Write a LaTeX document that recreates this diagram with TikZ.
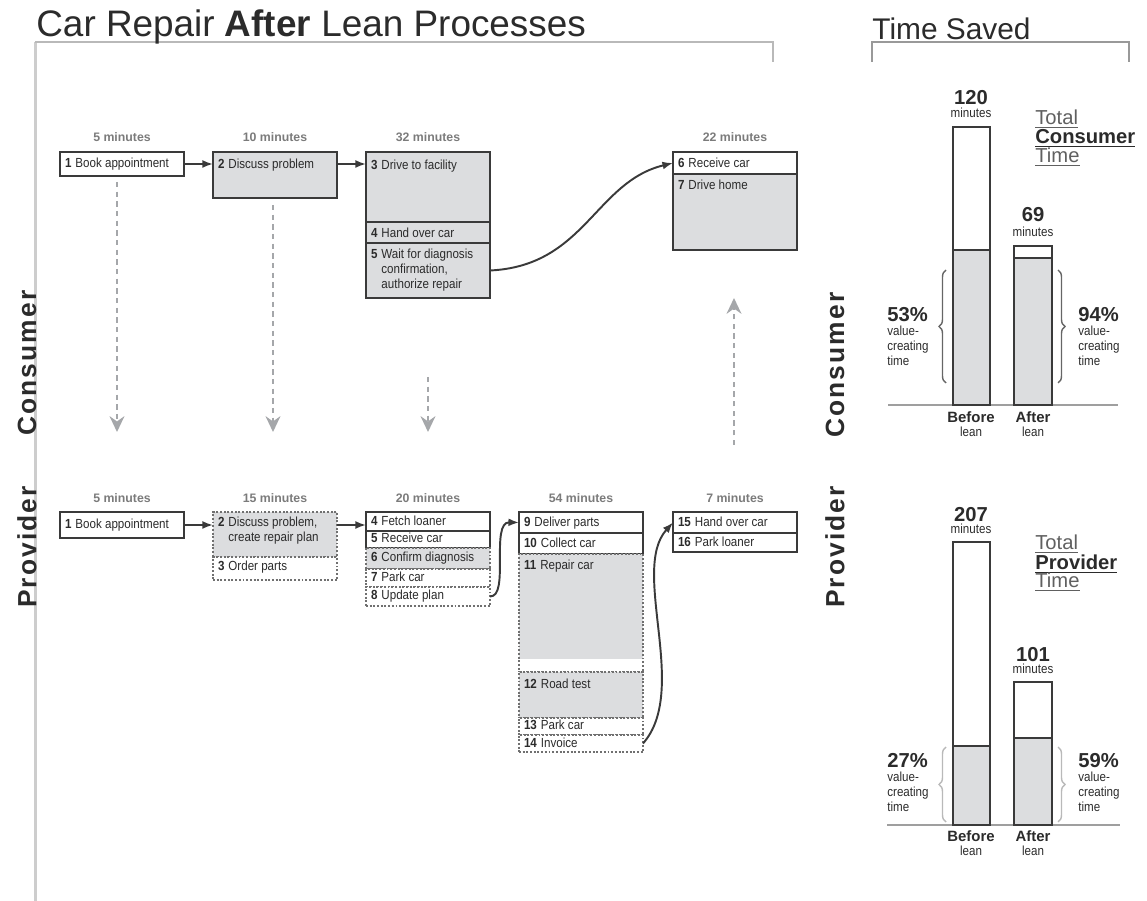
\documentclass[tikz,border=0pt]{standalone}
\usepackage{fontspec}
\setmainfont{Liberation Sans}
\newfontfamily\condf[FakeStretch=0.88]{Liberation Sans}
\newfontfamily\lanef[LetterSpace=8]{Liberation Sans}
\usepackage{tikz}
\usetikzlibrary{arrows.meta, positioning, decorations.pathreplacing}

\definecolor{boxgray}{HTML}{DCDDDF}
\definecolor{linec}{HTML}{3A3A3A}
\definecolor{dotc}{HTML}{707070}
\definecolor{dashc}{HTML}{A5A7AA}
\definecolor{timec}{HTML}{7B7B7B}
\definecolor{framec}{HTML}{CDCDCD}
\definecolor{textc}{HTML}{2B2B2B}

\newlength\px \setlength\px{0.02cm}
% box text: [first line height]{box height}{number}{text}
\newcommand\stg[4][16]{\parbox[t][#2\px][t]{124\px}{\hspace*{5\px}\begin{tabular}[t]{@{}l@{\hspace{4\px}}l@{}}\rule{0pt}{#1\px}\textbf{#3}&#4\end{tabular}}}

\begin{document}
\begin{tikzpicture}[
  x=0.02cm, y=-0.02cm,
  stage/.style={draw=linec, line width=1.1pt, anchor=north west, inner sep=0pt, outer sep=0pt,
    font=\condf\fontsize{7.5}{8.5}\selectfont, text=textc},
  wbox/.style={fill=white},
  vbox/.style={fill=boxgray},
  dots/.style={draw=dotc, densely dotted, line width=0.8pt},
  mins/.style={inner sep=0pt, font=\bfseries\fontsize{7}{8}\selectfont, text=timec},
  flow/.style={draw=linec, line width=1.1pt, -{Latex[length=6pt,width=4.5pt]}},
  handoff/.style={draw=dashc, dashc, line width=1.1pt, dash pattern=on 3pt off 2.5pt,
    -{Stealth[length=9pt,width=8.5pt,inset=3pt]}},
  lane/.style={rotate=90, inner sep=0pt, font=\lanef\bfseries\fontsize{15}{16}\selectfont, text=textc},
  bignum/.style={anchor=base, inner sep=0pt, font=\bfseries\fontsize{11.5}{12}\selectfont, text=textc},
  small/.style={inner sep=0pt, font=\condf\fontsize{7.5}{8.5}\selectfont, text=textc},
  axlab/.style={anchor=base, inner sep=0pt, font=\bfseries\fontsize{8.5}{9}\selectfont, text=textc},
  total/.style={anchor=base west, inner sep=0pt, font=\fontsize{11.5}{12}\selectfont, text=textc!75},
  barline/.style={draw=linec, line width=1.1pt},
  axis/.style={draw=gray!75, line width=1.2pt},
  curly/.style={decorate, decoration={brace, amplitude=7\px}, line width=0.8pt}
]
\useasboundingbox (0,0) rectangle (1147,901);

% frames and headings
\draw[framec, line width=3\px] (35,42) -- (35,901);
\draw[gray!55, line width=2\px] (35,42) -- (773,42) -- (773,62);
\draw[gray!80, line width=2\px] (872,62) -- (872,42) -- (1129,42) -- (1129,62);
\node[anchor=base west, inner sep=0pt, font=\fontsize{21}{22}\selectfont, text=textc] (title) at (36,37)
  {Car Repair \textbf{After} Lean Processes};
\node[anchor=base west, inner sep=0pt, font=\fontsize{17}{18}\selectfont, text=textc] (saved) at (872,40)
  {Time Saved};

\node[lane] (lc) at (27,363) {Consumer};
\node[lane] (lp) at (27,547) {Provider};
\node[lane] (rc) at (835,365) {Consumer};
\node[lane] (rp) at (835,547) {Provider};

% consumer steps
\node[stage, wbox] (c1) at (60,152) {\stg{24}{1}{Book appointment}};
\node[stage, vbox] (c2) at (213,152) {\stg[17]{46}{2}{Discuss problem}};
\node[stage, vbox] (c3) at (366,152) {\stg[18]{70}{3}{Drive to facility}};
\node[stage, vbox] (c4) at (c3.south west) {\stg{21}{4}{Hand over car}};
\node[stage, vbox] (c5) at (c4.south west) {\stg{55}{5}{Wait for diagnosis\\&confirmation,\\&authorize repair}};
\node[stage, wbox] (c6) at (673,152) {\stg{22}{6}{Receive car}};
\node[stage, vbox] (c7) at (c6.south west) {\stg{76}{7}{Drive home}};

\node[mins, above=10\px of c1] (tc1) {5 minutes};
\node[mins, above=10\px of c2] (tc2) {10 minutes};
\node[mins, above=10\px of c3] (tc3) {32 minutes};
\node[mins, above=10\px of c6] (tc4) {22 minutes};

\draw[flow] (c1.east) -- (c1.east -| c2.west);
\draw[flow] (c1.east -| c2.east) -- (c1.east -| c3.west);
\draw[flow] (c5.east) .. controls (585,266) and (595,182) .. (c6.west);

% provider steps
\node[stage, wbox] (p1) at (60,512) {\stg[17]{26}{1}{Book appointment}};
\node[stage, dots, vbox] (p2) at (213,512) {\stg[15]{45}{2}{Discuss problem,\\&create repair plan}};
\node[stage, dots, wbox] (p3) at (p2.south west) {\stg[14]{23}{3}{Order parts}};
\node[stage, wbox] (p4) at (366,512) {\stg[14]{19}{4}{Fetch loaner}};
\node[stage, wbox] (p5) at (p4.south west) {\stg[12]{17}{5}{Receive car}};
\node[stage, dots, vbox] (p6) at (p5.south west) {\stg[14]{21}{6}{Confirm diagnosis}};
\node[stage, dots, wbox] (p7) at (p6.south west) {\stg[13]{18}{7}{Park car}};
\node[stage, dots, wbox] (p8) at (p7.south west) {\stg[13]{19}{8}{Update plan}};
\node[stage, wbox] (p9) at (519,512) {\stg[15]{21}{9}{Deliver parts}};
\node[stage, wbox] (p10) at (p9.south west) {\stg[15]{21}{10}{Collect car}};
\node[stage, dots, path picture={\fill[boxgray] (path picture bounding box.north west)
  rectangle ([yshift=13\px]path picture bounding box.south east);}] (p11) at (p10.south west)
  {\stg{118}{11}{Repair car}};
\node[stage, dots, vbox] (p12) at (p11.south west) {\stg[17]{46}{12}{Road test}};
\node[stage, dots, wbox] (p13) at (p12.south west) {\stg[12]{17}{13}{Park car}};
\node[stage, dots, wbox] (p14) at (p13.south west) {\stg[13]{17}{14}{Invoice}};
\node[stage, wbox] (p15) at (673,512) {\stg[15]{21}{15}{Hand over car}};
\node[stage, wbox] (p16) at (p15.south west) {\stg[14]{19}{16}{Park loaner}};

\node[mins, above=9\px of p1] (tp1) {5 minutes};
\node[mins, above=9\px of p2] (tp2) {15 minutes};
\node[mins, above=9\px of p4] (tp3) {20 minutes};
\node[mins, above=9\px of p9] (tp4) {54 minutes};
\node[mins, above=9\px of p15] (tp5) {7 minutes};

\draw[flow] (p1.east) -- (p1.east -| p2.west);
\draw[flow] (p1.east -| p2.east) -- (p1.east -| p4.west);
\draw[flow] (p8.east) .. controls (510,597) and (490,522) .. (p9.west);
\draw[flow] (p14.east) .. controls (690,690) and (630,570) .. (p15.west);

% hand-offs between consumer and provider
\coordinate (h1) at (117,432);
\coordinate (h2) at (273,432);
\coordinate (h3s) at (428,377);
\coordinate (h3) at (428,432);
\coordinate (h4s) at (734,445);
\coordinate (h4) at (734,298);
\draw[handoff] ([xshift=-5\px, yshift=-6\px]c1.south) -- (h1);
\draw[handoff] ([xshift=-2\px, yshift=-7\px]c2.south) -- (h2);
\draw[handoff] (h3s) -- (h3);
\draw[handoff] (h4s) -- (h4);

% total consumer time
\draw[axis] (888,405) -- (1118,405);
\fill[boxgray] (953,250) rectangle (990,405);
\draw[barline] (953,127) rectangle (990,405) (953,250) -- (990,250);
\fill[boxgray] (1014,258) rectangle (1052,405);
\draw[barline] (1014,246) rectangle (1052,405) (1014,258) -- (1052,258);
\draw[curly, gray!80!black] (946,383) -- (946,270);
\draw[curly, gray!80!black] (1058,270) -- (1058,383);
\node[bignum] (cbn) at (971,105) {120};
\node[small, anchor=base] (cbm) at (971,118) {minutes};
\node[bignum] (can) at (1033,222) {69};
\node[small, anchor=base] (cam) at (1033,237) {minutes};
\node[total] (ct1) at (1035,125) {\underline{Total}};
\node[total, text=textc] (ct2) at (1035,144) {\underline{\textbf{Consumer}}};
\node[total] (ct3) at (1035,163) {\underline{Time}};
\node[bignum, anchor=base west] (cbp) at (887,322) {53\%};
\node[small, anchor=north west, align=left] (cbv) at (887,326) {value-\\creating\\time};
\node[bignum, anchor=base west] (cap) at (1078,322) {94\%};
\node[small, anchor=north west, align=left] (cav) at (1078,326) {value-\\creating\\time};
\node[axlab] (cbb) at (971,423) {Before};
\node[small, anchor=base] (cbl) at (971,437) {lean};
\node[axlab] (cab) at (1033,423) {After};
\node[small, anchor=base] (cal) at (1033,437) {lean};

% total provider time
\draw[axis] (887,825) -- (1120,825);
\fill[boxgray] (953,746) rectangle (990,825);
\draw[barline] (953,542) rectangle (990,825) (953,746) -- (990,746);
\fill[boxgray] (1014,738) rectangle (1052,825);
\draw[barline] (1014,682) rectangle (1052,825) (1014,738) -- (1052,738);
\draw[curly, gray!55] (946,822) -- (946,747);
\draw[curly, gray!55] (1058,747) -- (1058,822);
\node[bignum] (pbn) at (971,522) {207};
\node[small, anchor=base] (pbm) at (971,534) {minutes};
\node[bignum] (pan) at (1033,662) {101};
\node[small, anchor=base] (pam) at (1033,674) {minutes};
\node[total] (pt1) at (1035,550) {\underline{Total}};
\node[total, text=textc] (pt2) at (1035,570) {\underline{\textbf{Provider}}};
\node[total] (pt3) at (1035,588) {\underline{Time}};
\node[bignum, anchor=base west] (pbp) at (887,768) {27\%};
\node[small, anchor=north west, align=left] (pbv) at (887,772) {value-\\creating\\time};
\node[bignum, anchor=base west] (pap) at (1078,768) {59\%};
\node[small, anchor=north west, align=left] (pav) at (1078,772) {value-\\creating\\time};
\node[axlab] (pbb) at (971,842) {Before};
\node[small, anchor=base] (pbl) at (971,856) {lean};
\node[axlab] (pab) at (1033,842) {After};
\node[small, anchor=base] (pal) at (1033,856) {lean};
\end{tikzpicture}
\end{document}
